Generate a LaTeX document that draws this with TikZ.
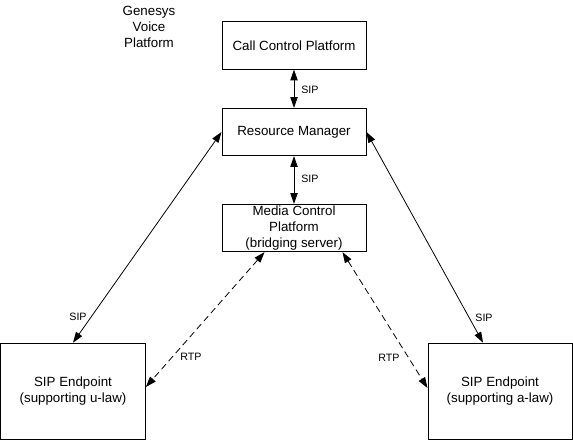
\documentclass[tikz,border=0pt]{standalone}
\usepackage{fontspec}
\setmainfont{Liberation Sans}
\usetikzlibrary{arrows.meta,calc}
\tikzset{
  box/.style={draw, line width=0.75pt, align=center, font=\fontsize{10pt}{12pt}\selectfont, inner sep=0pt},
  lbl/.style={font=\fontsize{8pt}{9.6pt}\selectfont, inner sep=0pt},
  conn/.style={line width=0.6pt, {Triangle[length=8pt,width=5.5pt]}-{Triangle[length=8pt,width=5.5pt]}},
  rtp/.style={conn, dash pattern=on 5pt off 3pt},
}
\begin{document}
\begin{tikzpicture}[x=0.75pt,y=-0.75pt]
\useasboundingbox (0,0) rectangle (573,440);
\node[align=center, font=\fontsize{10pt}{12pt}\selectfont, inner sep=0pt] (gvp) at (149,27) {Genesys\\Voice\\Platform};
\node[box, minimum width=108pt, minimum height=35.5pt] (ccp) at (294,45.5) {Call Control Platform};
\node[box, minimum width=108pt, minimum height=35.5pt] (rm) at (294,132) {Resource Manager};
\node[box, minimum width=108pt, minimum height=35.5pt] (mcp) at (294,228) {Media Control\\Platform\\(bridging server)};
\node[box, minimum width=108.5pt, minimum height=72.5pt] (ep1) at (73,391.5) {SIP Endpoint\\(supporting u-law)};
\node[box, minimum width=108pt, minimum height=72.5pt] (ep2) at (500,391.5) {SIP Endpoint\\(supporting a-law)};
\draw[conn] (ccp.south) -- (rm.north);
\draw[conn] (rm.south) -- (mcp.north);
\draw[conn] (rm.west) -- (ep1.north);
\draw[conn] (rm.east) -- ($(ep2.north)+(-17,0)$);
\draw[rtp] ($(mcp.south west)+(43,0)$) -- ($(ep1.east)+(0,-4.5)$);
\draw[rtp] ($(mcp.south west)+(121,0)$) -- ($(ep2.west)+(0,-3.5)$);
\node[lbl, anchor=west] (s1) at (301,90) {SIP};
\node[lbl, anchor=west] (s2) at (301,179) {SIP};
\node[lbl] (s3) at (78,317) {SIP};
\node[lbl] (s4) at (484,318) {SIP};
\node[lbl] (r1) at (191,357) {RTP};
\node[lbl] (r2) at (389,358) {RTP};
\end{tikzpicture}
\end{document}
